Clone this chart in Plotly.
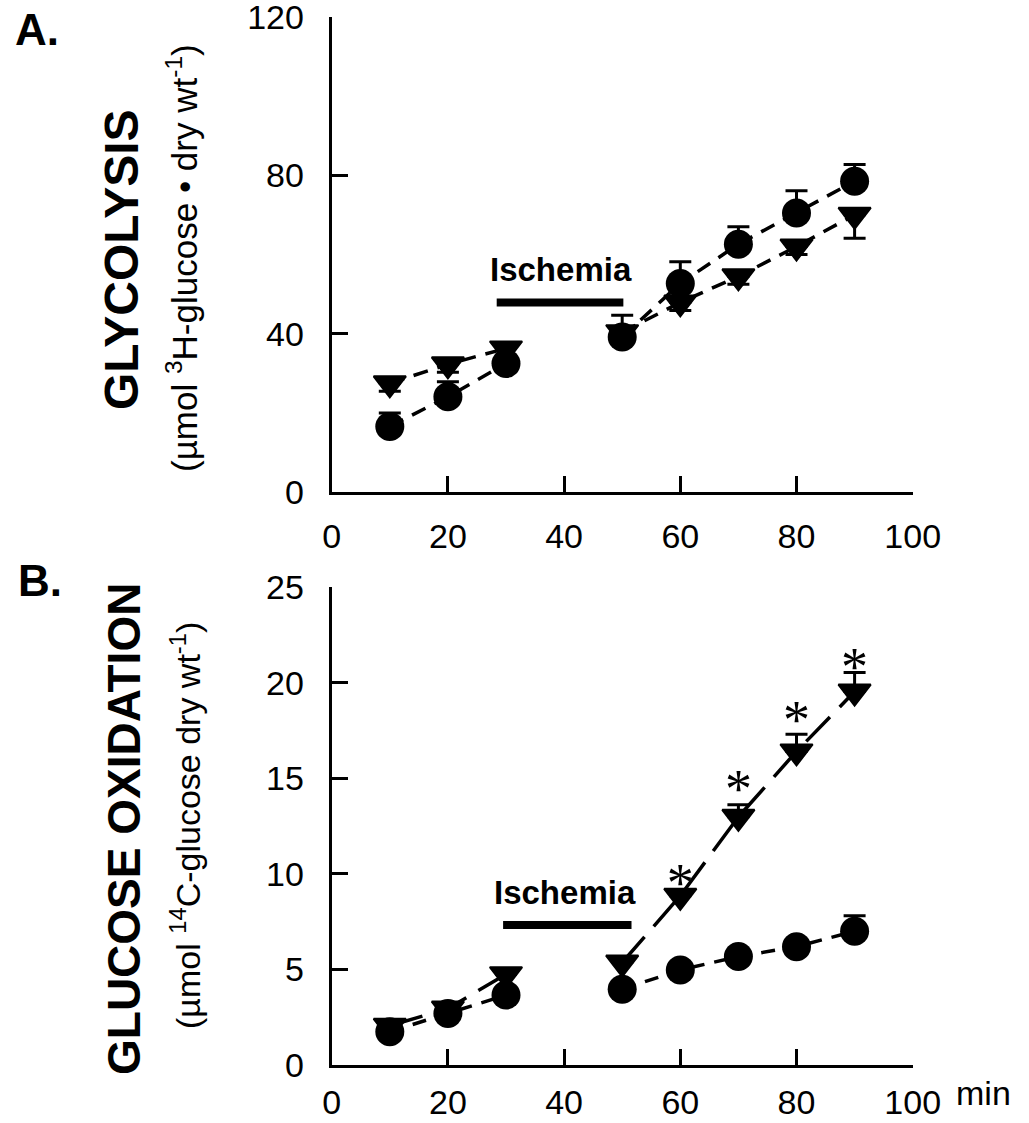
import plotly.graph_objects as go

# ---------------- data ----------------
time_min = [10, 20, 30, 50, 60, 70, 80, 90]

# Panel A: glycolysis
glyc_circle = [16.6, 24.1, 32.5, 39.2, 52.7, 62.6, 70.5, 78.5]
glyc_circle_err = [3.4, 3.8, 2.0, 5.5, 5.5, 4.4, 5.6, 4.2]
glyc_tri = [27.5, 32.3, 36.3, 40.4, 47.9, 54.5, 62.0, 70.0]
glyc_tri_err = [2.0, 2.0, 2.0, 2.0, 2.0, 2.0, 2.0, 5.9]

# Panel B: glucose oxidation
oxid_circle = [1.74, 2.70, 3.66, 3.96, 4.97, 5.67, 6.19, 7.0]
oxid_circle_err = [0.3, 0.3, 0.3, 0.3, 0.3, 0.3, 0.3, 0.8]
oxid_tri = [2.05, 2.95, 4.75, 5.36, 8.85, 12.98, 16.4, 19.53]
oxid_tri_err = [0.3, 0.3, 0.3, 0.3, 0.3, 0.63, 0.9, 1.0]

# significance asterisks (panel B)
star_time = [60, 70, 80, 90]
star_y = [9.3, 14.2, 17.8, 20.6]

# ischemia bars [start, end, level] and label position [x, y]
isch_A = [28.4, 50.2, 47.9]
isch_A_label = [39.4, 56.3]
isch_B = [29.5, 51.6, 7.32]
isch_B_label = [40.2, 9.0]

x_ticks = [0, 20, 40, 60, 80, 100]
yA_ticks = [0, 40, 80, 120]
yB_ticks = [0, 5, 10, 15, 20, 25]

FONT = "Liberation Sans, Arial, Helvetica, sans-serif"
W, H = 1029, 1123


def segments(xs, ys):
    """split series where the time gap is > 10 min (ischemia)"""
    outx, outy = [xs[0]], [ys[0]]
    for i in range(1, len(xs)):
        if xs[i] - xs[i - 1] > 10:
            outx.append(None)
            outy.append(None)
        outx.append(xs[i])
        outy.append(ys[i])
    return outx, outy


fig = go.Figure()


def add_panel(xa, ya, circ, circ_err, tri, tri_err, tri_down, circ_dash, tri_dash):
    cx, cy = segments(time_min, circ)
    tx, ty = segments(time_min, tri)
    fig.add_trace(go.Scatter(x=tx, y=ty, mode="lines", xaxis=xa, yaxis=ya,
                             line=dict(color="black", width=3.5, dash=tri_dash),
                             showlegend=False, hoverinfo="skip"))
    fig.add_trace(go.Scatter(x=cx, y=cy, mode="lines", xaxis=xa, yaxis=ya,
                             line=dict(color="black", width=3.5, dash=circ_dash),
                             showlegend=False, hoverinfo="skip"))
    zeros = [0] * len(time_min)
    if tri_down:
        ey = dict(type="data", symmetric=False, array=zeros, arrayminus=tri_err,
                  color="black", thickness=3, width=11)
    else:
        ey = dict(type="data", symmetric=False, array=tri_err, arrayminus=zeros,
                  color="black", thickness=3, width=11)
    fig.add_trace(go.Scatter(x=time_min, y=tri, mode="markers", xaxis=xa, yaxis=ya,
                             marker=dict(symbol="triangle-down", size=28, color="black",
                                         line=dict(color="black", width=2)),
                             error_y=ey, showlegend=False))
    fig.add_trace(go.Scatter(x=time_min, y=circ, mode="markers", xaxis=xa, yaxis=ya,
                             marker=dict(symbol="circle", size=29, color="black"),
                             error_y=dict(type="data", symmetric=False, array=circ_err,
                                          arrayminus=zeros, color="black",
                                          thickness=3, width=11),
                             showlegend=False))


add_panel("x", "y", glyc_circle, glyc_circle_err, glyc_tri, glyc_tri_err, True,
          "15px,10px", "15px,10px")
add_panel("x2", "y2", oxid_circle, oxid_circle_err, oxid_tri, oxid_tri_err, False,
          "14px,10px", "34px,14px")

# asterisks
fig.add_trace(go.Scatter(x=star_time, y=star_y, mode="text", text=["*"] * len(star_time),
                         textposition="middle center", xaxis="x2", yaxis="y2",
                         textfont=dict(family="Liberation Serif, Times New Roman, serif",
                                       size=54, color="black"),
                         showlegend=False, hoverinfo="skip"))

axis_common = dict(showline=True, linecolor="black", linewidth=3, mirror=False,
                   ticks="inside", ticklen=16, tickwidth=2.5, tickcolor="black",
                   showgrid=False, zeroline=False, automargin=False,
                   ticklabeloverflow="allow",
                   tickfont=dict(family=FONT, size=34, color="black"))

xdom = [331.7 / W, 912.7 / W]
fig.update_layout(
    width=W, height=H,
    margin=dict(l=0, r=0, t=0, b=0),
    paper_bgcolor="white", plot_bgcolor="white",
    showlegend=False,
    xaxis=dict(domain=xdom, range=[0, 100], tickvals=x_ticks, anchor="y",
               ticklabelstandoff=12, **axis_common),
    yaxis=dict(domain=[1 - 492.3 / H, 1 - 16.7 / H], range=[0, 120], tickvals=yA_ticks,
               anchor="x", ticklabelstandoff=18, **axis_common),
    xaxis2=dict(domain=xdom, range=[0, 100], tickvals=x_ticks, anchor="y2",
                ticklabelstandoff=5, **axis_common),
    yaxis2=dict(domain=[1 - 1065 / H, 1 - 587 / H], range=[0, 25], tickvals=yB_ticks,
                anchor="x2", ticklabelstandoff=18, **axis_common),
)

# ischemia bars
for xr, yr, bar in (("x", "y", isch_A), ("x2", "y2", isch_B)):
    fig.add_shape(type="line", xref=xr, yref=yr, x0=bar[0], x1=bar[1], y0=bar[2], y1=bar[2],
                  line=dict(color="black", width=8))

ann = []
for xr, yr, lab in (("x", "y", isch_A_label), ("x2", "y2", isch_B_label)):
    ann.append(dict(xref=xr, yref=yr, x=lab[0], y=lab[1], text="<b>Ischemia</b>",
                    showarrow=False, xanchor="center", yanchor="middle",
                    font=dict(family=FONT, size=33, color="black")))

ann += [
    dict(xref="paper", yref="paper", x=37 / W, y=1 - 29 / H, text="<b>A.</b>",
         showarrow=False, xanchor="center", yanchor="middle",
         font=dict(family=FONT, size=44, color="black")),
    dict(xref="paper", yref="paper", x=40 / W, y=1 - 580 / H, text="<b>B.</b>",
         showarrow=False, xanchor="center", yanchor="middle",
         font=dict(family=FONT, size=44, color="black")),
    dict(xref="paper", yref="paper", x=121 / W, y=1 - 260 / H, text="<b>GLYCOLYSIS</b>",
         textangle=-90, showarrow=False, xanchor="center", yanchor="middle",
         font=dict(family=FONT, size=48, color="black")),
    dict(xref="paper", yref="paper", x=182 / W, y=1 - 258 / H,
         text="(µmol <sup>3</sup>H-glucose • dry wt<sup>-1</sup>)",
         textangle=-90, showarrow=False, xanchor="center", yanchor="middle",
         font=dict(family=FONT, size=35, color="black")),
    dict(xref="paper", yref="paper", x=124 / W, y=1 - 829 / H, text="<b>GLUCOSE OXIDATION</b>",
         textangle=-90, showarrow=False, xanchor="center", yanchor="middle",
         font=dict(family=FONT, size=46, color="black")),
    dict(xref="paper", yref="paper", x=185 / W, y=1 - 826 / H,
         text="(µmol <sup>14</sup>C-glucose dry wt<sup>-1</sup>)",
         textangle=-90, showarrow=False, xanchor="center", yanchor="middle",
         font=dict(family=FONT, size=34, color="black")),
    dict(xref="paper", yref="paper", x=983 / W, y=1 - 1093 / H, text="min",
         showarrow=False, xanchor="center", yanchor="middle",
         font=dict(family=FONT, size=34, color="black")),
]
fig.update_layout(annotations=ann)

fig.write_html("out.html")
